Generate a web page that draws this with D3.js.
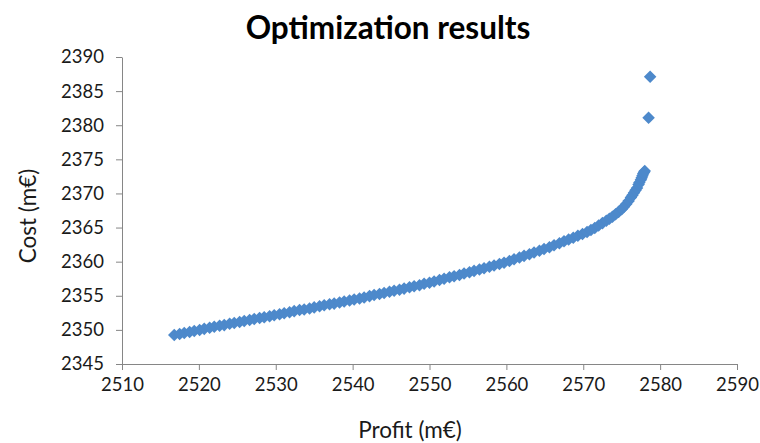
<!DOCTYPE html>
<html>
<head>
<meta charset="utf-8">
<script src="https://cdn.jsdelivr.net/npm/d3@7"></script>
<style>
  html, body { margin: 0; padding: 0; background: #fff; }
  svg { display: block; }
</style>
</head>
<body>
<svg id="chart" width="760" height="443"></svg>
<script>
// Pareto front: profit vs cost of each optimized solution
const profit = [
  2516.8, 2517.5, 2518.1, 2518.8, 2519.4, 2520.1, 2520.7, 2521.4, 2522.0, 2522.7,
  2523.3, 2524.0, 2524.6, 2525.3, 2525.9, 2526.6, 2527.2, 2527.9, 2528.5, 2529.2,
  2529.8, 2530.5, 2531.1, 2531.8, 2532.4, 2533.1, 2533.7, 2534.4, 2535.0, 2535.7,
  2536.3, 2537.0, 2537.6, 2538.3, 2538.9, 2539.6, 2540.2, 2540.9, 2541.5, 2542.2,
  2542.8, 2543.5, 2544.1, 2544.8, 2545.4, 2546.1, 2546.7, 2547.4, 2548.0, 2548.7,
  2549.3, 2550.0, 2550.6, 2551.3, 2551.9, 2552.6, 2553.2, 2553.9, 2554.5, 2555.2,
  2555.8, 2556.5, 2557.1, 2557.8, 2558.4, 2559.1, 2559.7, 2560.4, 2561.0, 2561.7,
  2562.3, 2563.0, 2563.6, 2564.3, 2564.9, 2565.6, 2566.2, 2566.9, 2567.5, 2568.1,
  2568.7, 2569.3, 2569.9, 2570.5, 2571.0, 2571.5, 2572.0, 2572.5, 2573.0, 2573.4,
  2573.8, 2574.2, 2574.6, 2575.0, 2575.3, 2575.6, 2575.9, 2576.2, 2576.4, 2576.6,
  2576.8, 2577.0, 2577.2, 2577.3, 2577.5, 2577.6, 2577.7, 2577.8, 2577.9, 2578.0,
  2578.5, 2578.7
];
const cost = [
  2349.25, 2349.4, 2349.55, 2349.7, 2349.85, 2350.0, 2350.15, 2350.3, 2350.45, 2350.6,
  2350.7, 2350.9, 2351.0, 2351.15, 2351.3, 2351.45, 2351.6, 2351.75, 2351.85, 2352.0,
  2352.15, 2352.3, 2352.45, 2352.6, 2352.75, 2352.9, 2353.0, 2353.15, 2353.3, 2353.45,
  2353.6, 2353.75, 2353.85, 2354.0, 2354.15, 2354.3, 2354.45, 2354.6, 2354.75, 2354.95,
  2355.1, 2355.25, 2355.4, 2355.6, 2355.75, 2355.9, 2356.05, 2356.25, 2356.4, 2356.55,
  2356.75, 2356.9, 2357.1, 2357.3, 2357.5, 2357.7, 2357.85, 2358.05, 2358.25, 2358.45,
  2358.65, 2358.85, 2359.05, 2359.25, 2359.45, 2359.65, 2359.85, 2360.1, 2360.35, 2360.6,
  2360.85, 2361.1, 2361.35, 2361.6, 2361.85, 2362.1, 2362.4, 2362.7, 2363.0, 2363.25,
  2363.5, 2363.8, 2364.05, 2364.35, 2364.65, 2364.95, 2365.3, 2365.65, 2366.0, 2366.3,
  2366.6, 2366.95, 2367.3, 2367.7, 2368.05, 2368.45, 2368.9, 2369.4, 2369.75, 2370.1,
  2370.45, 2370.8, 2371.3, 2371.6, 2372.0, 2372.3, 2372.6, 2372.9, 2373.1, 2373.3,
  2381.1, 2387.1
];
const xTicks = [2510, 2520, 2530, 2540, 2550, 2560, 2570, 2580, 2590];
const yTicks = [2345, 2350, 2355, 2360, 2365, 2370, 2375, 2380, 2385, 2390];

const titleText = "Optimization results";
const xLabel = "Profit (m€)";
const yLabel = "Cost (m€)";

const font = "Lato, 'Open Sans', sans-serif";
const axisColor = "#868686";
const markerColor = "#4d89cb";

const svg = d3.select("#chart");
const plot = { left: 122, right: 737, top: 57, bottom: 364 };

const x = d3.scaleLinear().domain([2510, 2590]).range([plot.left, plot.right]);
const y = d3.scaleLinear().domain([2345, 2390]).range([plot.bottom, plot.top]);

// Axes
const xAxis = svg.append("g")
  .attr("transform", `translate(0,${plot.bottom})`)
  .call(d3.axisBottom(x).tickValues(xTicks).tickSize(6).tickSizeOuter(0).tickPadding(8).tickFormat(d3.format("d")));
const yAxis = svg.append("g")
  .attr("transform", `translate(${plot.left},0)`)
  .call(d3.axisLeft(y).tickValues(yTicks).tickSize(6).tickSizeOuter(0).tickPadding(12).tickFormat(d3.format("d")));

[xAxis, yAxis].forEach(g => {
  g.select(".domain").attr("stroke", axisColor).attr("stroke-width", 1);
  g.selectAll(".tick line").attr("stroke", axisColor).attr("stroke-width", 1);
  g.selectAll(".tick text")
    .attr("fill", "#1a1a1a")
    .style("font-family", font)
    .style("font-size", "18.5px");
});

// Diamond markers
const diamond = d3.symbol().type(d3.symbolDiamond2).size(100);
const points = profit.map((p, i) => ({ p, c: cost[i] }));
svg.append("g")
  .selectAll("path")
  .data(points)
  .join("path")
  .attr("d", diamond)
  .attr("transform", d => `translate(${x(d.p)},${y(d.c)})`)
  .attr("fill", markerColor);

// Title and axis titles
svg.append("text")
  .attr("x", 388).attr("y", 39)
  .attr("text-anchor", "middle")
  .style("font-family", font)
  .style("font-weight", "bold")
  .style("font-size", "31.5px")
  .attr("fill", "#000")
  .text(titleText);

svg.append("text")
  .attr("x", 410).attr("y", 438)
  .attr("text-anchor", "middle")
  .style("font-family", font)
  .style("font-size", "22.5px")
  .attr("fill", "#1a1a1a")
  .text(xLabel);

svg.append("text")
  .attr("transform", "translate(36,216) rotate(-90)")
  .attr("text-anchor", "middle")
  .style("font-family", font)
  .style("font-size", "22.5px")
  .attr("fill", "#1a1a1a")
  .text(yLabel);
</script>
</body>
</html>
